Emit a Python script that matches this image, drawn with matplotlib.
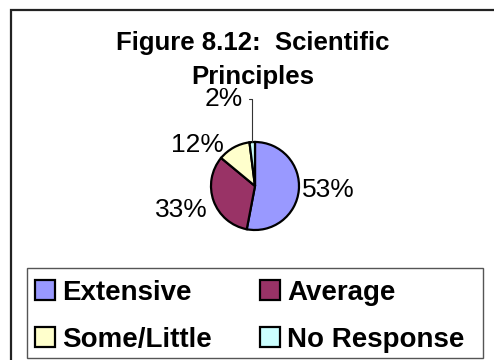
import matplotlib
matplotlib.use("Agg")
import matplotlib.pyplot as plt
import numpy as np
from matplotlib.patches import Rectangle

plt.rcParams["font.family"] = ["Liberation Sans", "DejaVu Sans"]

# Survey responses
categories = ["Extensive", "Average", "Some/Little", "No Response"]
percentages = [53, 33, 12, 2]
colors = ["#9999FF", "#993366", "#FFFFCC", "#CCFFFF"]
title = "Figure 8.12:  Scientific\nPrinciples"

W, H, DPI = 494, 360, 100
fig = plt.figure(figsize=(W / DPI, H / DPI), dpi=DPI)
fig.patch.set_facecolor("white")


def fx(px):
    return px / W


def fy(py):
    return 1 - py / H


# Outer chart border (continues past the right and bottom edges)
fig.add_artist(Rectangle((fx(10.5), -0.2), 1.5, fy(9.5) + 0.2,
                         transform=fig.transFigure, fill=False,
                         edgecolor="#222222", linewidth=1.6))

# Title
fig.text(fx(253), fy(31), title, ha="center", va="top",
         fontsize=18.5, fontweight="bold", linespacing=1.55)

# Pie axes: 100x100 px square centered on the pie
cx, cy, R = 255, 186, 44
half = 50
ax = fig.add_axes([fx(cx - half), fy(cy + half), 2 * half / W, 2 * half / H])
ax.axis("off")

wedges, _ = ax.pie(percentages, colors=colors, startangle=90,
                   counterclock=False, radius=1.0,
                   wedgeprops=dict(edgecolor="black", linewidth=1.6))
ax.set_xlim(-half / R, half / R)
ax.set_ylim(-half / R, half / R)
ax.set_aspect("equal")

# Label placement: offset in pixels from the wedge's outer edge
label_offsets = [(3, 0, "left"), (-6, -9, "right"),
                 (-10, 2, "right"), (-9, 43, "right")]
for w, pct, (dx, dy, ha) in zip(wedges, percentages, label_offsets):
    ang = np.deg2rad((w.theta1 + w.theta2) / 2)
    xy = (np.cos(ang), np.sin(ang))
    leader = abs(dy) > 20
    ax.annotate(f"{pct}%", xy=xy, xytext=(dx, dy),
                textcoords="offset pixels", ha=ha, va="center",
                fontsize=19, annotation_clip=False,
                arrowprops=dict(arrowstyle="-", color="#333333", lw=0.8,
                                shrinkA=2, shrinkB=0,
                                connectionstyle="angle,angleA=0,angleB=90,rad=0")
                if leader else None)

# Legend box
fig.add_artist(Rectangle((fx(26.5), fy(358)), fx(483) - fx(26.5), fy(268) - fy(358),
                         transform=fig.transFigure, fill=False,
                         edgecolor="#555555", linewidth=1.0))

order = [0, 2, 1, 3]
leg = fig.legend([wedges[i] for i in order], [categories[i] for i in order],
                 loc="center left", bbox_to_anchor=(fx(35), fy(316.5)),
                 ncol=2, frameon=False, borderaxespad=0,
                 prop=dict(size=20, weight="bold"),
                 handlelength=0.72, handleheight=0.72, handletextpad=0.25,
                 columnspacing=1.75, labelspacing=0.75, borderpad=0)

fig.savefig("out.png", dpi=DPI)
